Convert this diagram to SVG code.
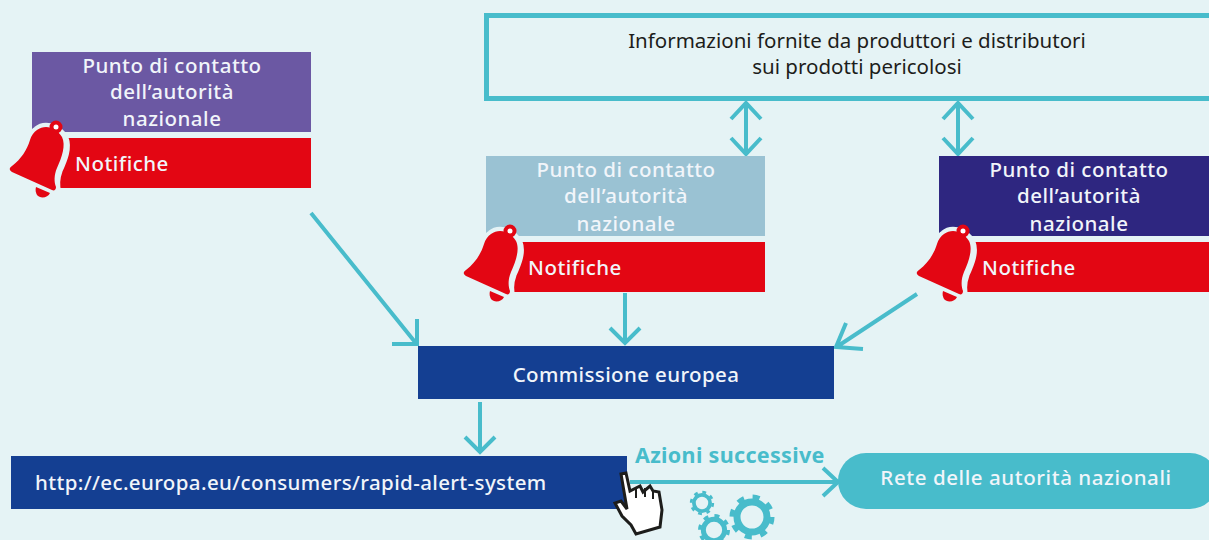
<svg xmlns="http://www.w3.org/2000/svg" width="1209" height="540" viewBox="0 0 1209 540">
<style>
text{font-family:"Noto Sans","Liberation Sans",sans-serif;font-size:20.500px;font-weight:500;fill:#f1f5fa;letter-spacing:.5px}
.m{text-anchor:middle}
.c{fill:none;stroke:#48bccb;stroke-width:4}
.g{fill:none;stroke:#48bccb}
.d{fill:#1d1d1b;font-weight:400;letter-spacing:0}
</style>
<defs>
<g id="bell">
<path d="M36 129C44 122 59 125 66 138C70 148 65 160 60 171C57 179 57 186 59 193L54 194L6 172L8 163C20 156 26 147 29 138C30 134 33 131 36 129Z" fill="#e5f3f5" stroke="#e5f3f5" stroke-width="5"/>
<circle cx="56" cy="127" r="4.500" fill="#fff" stroke="#e30613" stroke-width="4"/>
<path d="M37 130C45 124 56 127 62 137C66 145 62 157 57 168C54 175 54 182 56 187C56 190 54 191 52 190L12 172C9 170 9 168 12 166C21 159 27 150 30 140C31 136 34 132 37 130Z" fill="#e30613"/>
<path d="M36 187L50 193C48 198 40 199 37 195C36 193 35 190 36 187Z" fill="#e30613"/>
</g>
<g id="gear"><circle r="15" class="g" stroke-width="7"/><circle r="20" class="g" stroke-width="5" stroke-dasharray="7 8.710"/></g>
</defs>
<rect width="1209" height="540" fill="#e5f3f5"/>
<g id="connectors" class="c">
<path d="M311 213L415 342M417 319V344H392"/>
<path d="M625 293V343M610 328L625 343L640 328"/>
<path d="M917 294L838 346M846 323L836 347L863 349"/>
<path d="M480 402V452M465 437L480 452L495 437"/>
<path d="M630 482H837M823 468L838 482L823 496"/>
<path d="M746 103V154M731 119L746 103L761 119M731 138L746 154L761 138"/>
<path d="M958 103V154M943 119L958 103L973 119M943 138L958 154L973 138"/>
</g>
<g id="info"><rect x="486.500" y="15.500" width="730" height="83" fill="#e5f3f5" stroke="#48bccb" stroke-width="5"/>
<text class="m d" x="857" y="48">Informazioni fornite da produttori e distributori</text>
<text class="m d" x="857" y="74">sui prodotti pericolosi</text></g>
<g id="node-a"><rect x="32" y="52" width="279" height="80" fill="#6b58a3"/><rect x="60" y="138" width="251" height="50" fill="#e30613"/>
<text class="m" x="172" y="73">Punto di contatto</text><text class="m" x="172" y="99">dell’autorità</text><text class="m" x="172" y="126">nazionale</text>
<use href="#bell"/><text x="75" y="171">Notifiche</text></g>
<g id="node-b"><rect x="486" y="156" width="279" height="80" fill="#9ac2d3"/><rect x="514" y="242" width="251" height="50" fill="#e30613"/>
<text class="m" x="626" y="177">Punto di contatto</text><text class="m" x="626" y="203">dell’autorità</text><text class="m" x="626" y="231">nazionale</text>
<use href="#bell" x="454" y="104"/><text x="528" y="275">Notifiche</text></g>
<g id="node-c"><rect x="939" y="156" width="270" height="80" fill="#2e2680"/><rect x="967" y="242" width="242" height="50" fill="#e30613"/>
<text class="m" x="1079" y="177">Punto di contatto</text><text class="m" x="1079" y="203">dell’autorità</text><text class="m" x="1079" y="231">nazionale</text>
<use href="#bell" x="907" y="104"/><text x="982" y="275">Notifiche</text></g>
<g id="commission"><rect x="418" y="346" width="416" height="53" fill="#143f92"/><text class="m" x="626" y="382" style="letter-spacing:.38px">Commissione europea</text></g>
<g id="url"><rect x="11" y="456" width="616" height="53" fill="#143f92"/><text x="35" y="490" style="letter-spacing:.38px">http://ec.europa.eu/consumers/rapid-alert-system</text></g>
<g id="network"><rect x="838" y="453" width="380" height="56" rx="28" fill="#48bccb"/><text class="m" x="1026" y="485" style="letter-spacing:.58px">Rete delle autorità nazionali</text></g>
<text id="azioni" x="635" y="463" style="fill:#48bccb;font-weight:700;font-size:21.500px;letter-spacing:.32px">Azioni successive</text>
<g id="gears"><use href="#gear" transform="translate(702 503) scale(.54)"/><use href="#gear" transform="translate(714 530) scale(.71)"/><use href="#gear" transform="translate(752 517) scale(1)"/></g>
<path id="cursor" d="M621 474L626 473L630 491L640 486L643 492L650 486L653 491L659 492L662 510L660 527L636 534L631 525L622 516L615 503L621 501L627 509Z" fill="#fff" stroke="#1d1d1b" stroke-width="3"/>
<path d="M636 489V498M645 488V497M653 491V499" fill="none" stroke="#1d1d1b" stroke-width="2"/>
</svg>
